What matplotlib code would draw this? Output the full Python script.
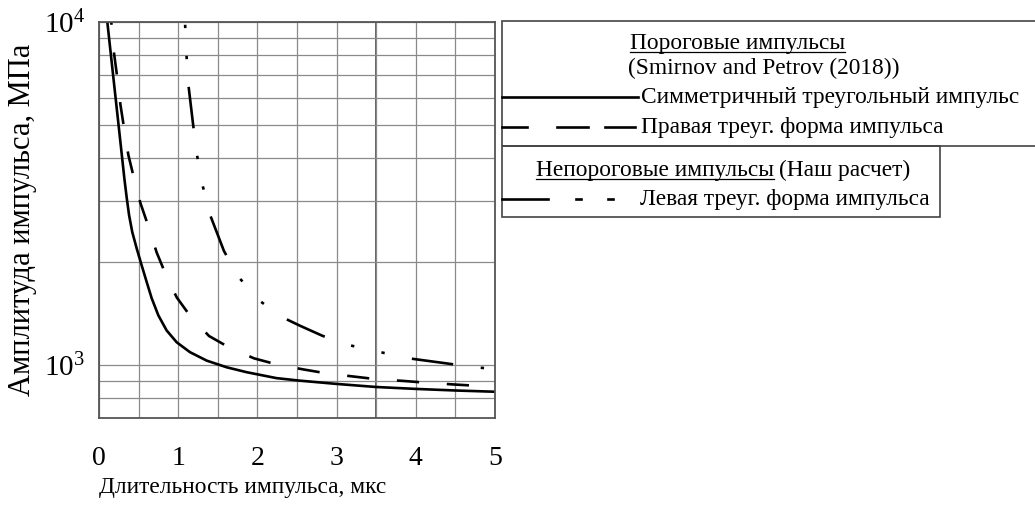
import numpy as np
import matplotlib
matplotlib.use("Agg")
import matplotlib.pyplot as plt
from matplotlib.lines import Line2D
from matplotlib.patches import Rectangle
from matplotlib.ticker import FixedLocator, NullFormatter

plt.rcParams['font.family'] = ['Liberation Serif', 'DejaVu Serif']
plt.rcParams['lines.scale_dashes'] = False

# Симметричный треугольный импульс (пороговый)
x_sym = [0.105, 0.13, 0.16, 0.20, 0.24, 0.28, 0.32, 0.35, 0.38, 0.42, 0.476, 0.539,
         0.602, 0.665, 0.749, 0.854, 0.981, 1.149, 1.36, 1.612, 1.865, 2.24, 2.525,
         3.0, 3.5, 4.0, 4.5, 5.0]
y_sym = [10000, 8850, 7645, 6290, 5180, 4260, 3500, 3070, 2730, 2440, 2185, 1950,
         1745, 1565, 1395, 1260, 1164, 1089, 1029, 984, 952, 915, 900,
         880, 862, 851, 842, 835]

# Правая треугольная форма (пороговый)
x_right = [0.155, 0.19, 0.23, 0.27, 0.316, 0.37, 0.442, 0.522, 0.622, 0.728, 0.833,
           0.981, 1.149, 1.389, 1.641, 1.957, 2.251, 2.58, 2.88, 3.21, 3.51, 3.84,
           4.14, 4.47, 4.77, 5.0]
y_right = [10000, 8100, 6900, 5750, 4910, 4100, 3500, 2970, 2541, 2128, 1858,
           1574, 1391, 1214, 1125, 1045, 1002, 970, 944, 925, 908, 898,
           887, 877, 869, 863]

# Левая треугольная форма (непороговый, наш расчет)
x_left = [1.086, 1.103, 1.124, 1.187, 1.233, 1.30, 1.389, 1.578, 1.759, 2.028, 2.315,
          2.54, 2.82, 3.15, 3.54, 3.90, 4.43, 4.80, 5.0]
y_left = [10000, 8150, 6700, 5050, 4150, 3400, 2790, 2148, 1807, 1538, 1377,
          1300, 1216, 1143, 1091, 1046, 1007, 982, 972]

W, H = 1035, 508
fig = plt.figure(figsize=(W / 100, H / 100), dpi=100)
ax = fig.add_axes([99 / W, 1 - 418 / H, 396 / W, 396 / H])

lw = 1.9
ax.plot(x_sym, y_sym, color='black', lw=lw)
ax.plot(x_right, y_right, color='black', lw=lw, linestyle=(14, (16, 20)))
ax.plot(x_left, y_left, color='black', lw=lw,
        linestyle=(48, (30, 20, 2.4, 20, 2.4, 20)))

ax.set_yscale('log')
ax.set_xlim(0, 5)
ax.set_ylim(700, 10000)

# сетка
grid_col = '#8a8a8a'
ax.xaxis.set_major_locator(FixedLocator([0, 1, 2, 3, 4, 5]))
ax.xaxis.set_minor_locator(FixedLocator(np.arange(0.5, 5, 1.0)))
ax.yaxis.set_major_locator(FixedLocator([1000, 10000]))
ax.yaxis.set_minor_locator(FixedLocator([800, 900, 2000, 3000, 4000, 5000,
                                          6000, 7000, 8000, 9000]))
ax.yaxis.set_minor_formatter(NullFormatter())
ax.set_yticklabels([r'$\mathregular{10^3}$', r'$\mathregular{10^4}$'])
ax.grid(True, which='both', color=grid_col, lw=0.9)
ax.axvline(3.5, color='#555555', lw=1.3, zorder=1)
ax.tick_params(which='both', length=0)
ax.tick_params(axis='x', labelsize=20, pad=20)
ax.tick_params(axis='y', labelsize=21, pad=10)
for s in ax.spines.values():
    s.set_color('#555555')
    s.set_linewidth(1.3)

ax.set_xlabel('Длительность импульса, мкс', fontsize=16.8)
ax.xaxis.set_label_coords((243 - 99) / 396, -0.15)
ax.set_ylabel('Амплитуда импульса, МПа', fontsize=22, labelpad=5)


def fp(x, y):
    return x / W, 1 - y / H


def hline(x0, x1, y):
    (a, b), (c, d) = fp(x0, y), fp(x1, y)
    fig.add_artist(Line2D([a, c], [b, d], transform=fig.transFigure,
                          color='black', lw=lw))


# рамки легенды
box_col = '#444444'
for (x0, y0, x1, y1) in [(502, 21, 1045, 146), (502, 146, 940, 217)]:
    a, b = fp(x0, y1)
    fig.add_artist(Rectangle((a, b), (x1 - x0) / W, (y1 - y0) / H,
                             transform=fig.transFigure, fill=False,
                             edgecolor=box_col, lw=1.2))

fs = 16.8
t1 = fig.text(*fp(630, 43), 'Пороговые импульсы', fontsize=fs, va='center')
fig.text(*fp(628, 68), '(Smirnov and Petrov (2018))', fontsize=fs, va='center')
hline(502, 638, 97)
fig.text(*fp(641, 97), 'Симметричный треугольный импульс', fontsize=fs, va='center')
for x0, x1 in [(502, 527), (557, 588), (605, 635)]:
    hline(x0, x1, 127)
fig.text(*fp(641, 127), 'Правая треуг. форма импульса', fontsize=fs, va='center')

t2 = fig.text(*fp(536, 170), 'Непороговые импульсы', fontsize=fs, va='center')
hline(502, 548, 199)
hline(576, 581, 199)
hline(608, 613, 199)
fig.text(*fp(640, 199), 'Левая треуг. форма импульса', fontsize=fs, va='center')

# подчеркивание заголовков, продолжение второй строки
fig.canvas.draw()
r = fig.canvas.get_renderer()
bb2 = t2.get_window_extent(r)
fig.text((bb2.x1 + 5) / W, fp(0, 170)[1], '(Наш расчет)', fontsize=fs, va='center')
for t in (t1, t2):
    bb = t.get_window_extent(r)
    y = bb.y0 + 2
    fig.add_artist(Line2D([bb.x0 / W, bb.x1 / W], [y / H, y / H],
                          transform=fig.transFigure, color='black', lw=0.9))

fig.savefig('out.png', dpi=100)
